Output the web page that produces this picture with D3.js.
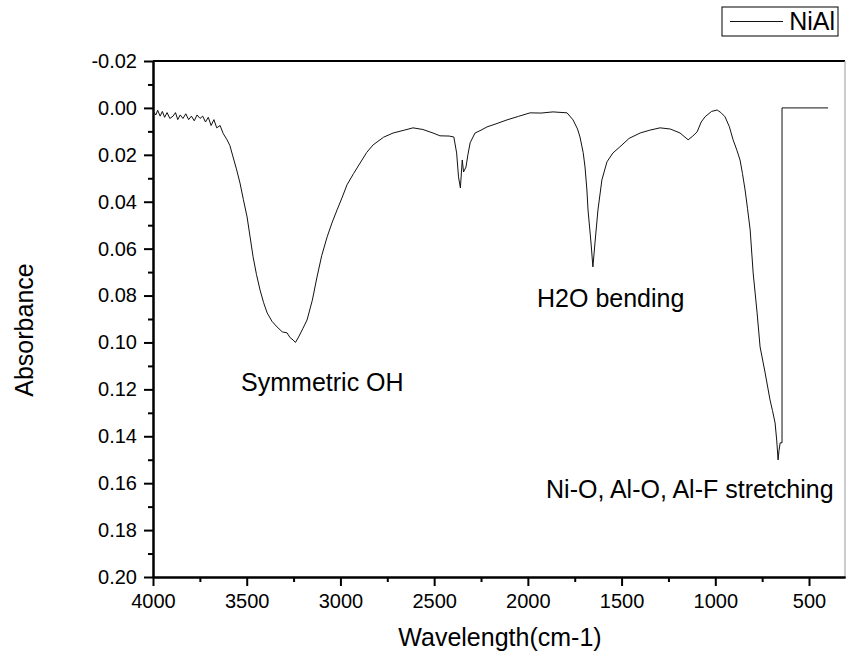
<!DOCTYPE html>
<html>
<head>
<meta charset="utf-8">
<script src="https://cdn.jsdelivr.net/npm/d3@7"></script>
<style>
  body { margin: 0; background: #fff; }
  svg { display: block; font-family: "Liberation Sans", Arial, sans-serif; }
  .tick text { font-size: 20px; fill: #000; }
  .axis path, .axis line { stroke: #000; stroke-width: 2px; }
  .label { font-size: 25px; fill: #000; }
</style>
</head>
<body>
<svg id="chart" width="846" height="659"></svg>
<script>
// FTIR spectrum of NiAl
const wavenumber = [
  3998, 3985, 3975, 3962, 3950, 3938, 3925, 3910, 3893, 3880,
  3868, 3855, 3840, 3825, 3810, 3795, 3780, 3765, 3749, 3735,
  3720, 3705, 3690, 3675, 3660, 3642, 3625, 3605, 3590, 3573,
  3555, 3536, 3518, 3498, 3482, 3466, 3448, 3429, 3410, 3391,
  3365, 3338, 3310, 3285, 3268, 3253, 3240, 3226, 3200, 3178,
  3150, 3125, 3100, 3071, 3045, 3018, 2990, 2965, 2930, 2895,
  2860, 2826, 2770, 2719, 2660, 2613, 2560, 2506, 2469, 2420,
  2395, 2380, 2370, 2360, 2350, 2343, 2330, 2320, 2308, 2282,
  2250, 2218, 2170, 2111, 2050, 1988, 1930, 1866, 1791, 1759,
  1735, 1722, 1705, 1695, 1685, 1679, 1663, 1653, 1642, 1626,
  1605, 1578, 1546, 1509, 1460, 1401, 1350, 1295, 1240, 1188,
  1145, 1120, 1097, 1075, 1055, 1020, 990, 970, 948, 925,
  905, 885, 868, 855, 841, 828, 814, 798, 777, 761,
  734, 708, 695, 681, 672, 665, 660, 654, 644, 644,
  398
];
const absorbance = [
  0.0015, 0.003, 0.001, 0.0035, 0.0015, 0.004, 0.002, 0.0045, 0.0035, 0.002,
  0.005, 0.003, 0.0045, 0.0025, 0.005, 0.0035, 0.0055, 0.003, 0.0045, 0.0035,
  0.006, 0.004, 0.0075, 0.005, 0.0085, 0.0075, 0.011, 0.0136, 0.016, 0.0209,
  0.026, 0.032, 0.039, 0.0465, 0.055, 0.0635, 0.071, 0.0776, 0.083, 0.0874,
  0.091, 0.0934, 0.0955, 0.0959, 0.098, 0.0989, 0.1, 0.0981, 0.094, 0.0904,
  0.082, 0.0721, 0.063, 0.055, 0.049, 0.0435, 0.038, 0.0328, 0.028, 0.0235,
  0.019, 0.0158, 0.0125, 0.0107, 0.0095, 0.0085, 0.0092, 0.0107, 0.0119, 0.012,
  0.0124, 0.0192, 0.0294, 0.0341, 0.0222, 0.0273, 0.0252, 0.02, 0.0149, 0.0107,
  0.0095, 0.0081, 0.0068, 0.0051, 0.0036, 0.0021, 0.0022, 0.0017, 0.0021, 0.0051,
  0.009, 0.0124, 0.019, 0.0252, 0.035, 0.0435, 0.0576, 0.0678, 0.0576, 0.0435,
  0.0307, 0.023, 0.0192, 0.0166, 0.013, 0.0107, 0.0095, 0.0085, 0.009, 0.0107,
  0.0136, 0.012, 0.0102, 0.006, 0.0038, 0.0015, 0.0009, 0.002, 0.0038, 0.008,
  0.0136, 0.018, 0.0222, 0.028, 0.035, 0.043, 0.052, 0.0704, 0.0874, 0.1019,
  0.113, 0.1245, 0.129, 0.1343, 0.142, 0.1501, 0.146, 0.1428, 0.1428, 0,
  0
];

const xMajorTicks = [4000, 3500, 3000, 2500, 2000, 1500, 1000, 500];
const xMinorTicks = [3750, 3250, 2750, 2250, 1750, 1250, 750];
const yMajorTicks = [-0.02, 0.00, 0.02, 0.04, 0.06, 0.08, 0.10, 0.12, 0.14, 0.16, 0.18, 0.20];
const yMinorTicks = [-0.01, 0.01, 0.03, 0.05, 0.07, 0.09, 0.11, 0.13, 0.15, 0.17, 0.19];

const annotations = [
  { text: "Symmetric OH", wn: 3530, ab: 0.1207 },
  { text: "H2O bending", wn: 1951, ab: 0.0849 },
  { text: "Ni-O, Al-O, Al-F stretching", wn: 1903, ab: 0.1663 }
];
const seriesName = "NiAl";

const svg = d3.select("#chart");
const margin = { top: 61, left: 153, right: 1, bottom: 82 };
const width = 846 - margin.left - margin.right;
const height = 659 - margin.top - margin.bottom;

const x = d3.scaleLinear().domain([4000, 308]).range([0, width]);
const y = d3.scaleLinear().domain([-0.02, 0.20]).range([0, height]);

const g = svg.append("g").attr("transform", `translate(${margin.left},${margin.top})`);

// frame: top line + thin right edge
g.append("line")
  .attr("x1", 0).attr("x2", width).attr("y1", 0).attr("y2", 0)
  .attr("stroke", "#000").attr("stroke-width", 2);
g.append("line")
  .attr("x1", width).attr("x2", width).attr("y1", 0).attr("y2", height)
  .attr("stroke", "#999").attr("stroke-width", 1);

// minor ticks
g.append("g").attr("class", "axis")
  .attr("transform", `translate(0,${height})`)
  .call(d3.axisBottom(x).tickValues(xMinorTicks).tickSize(5).tickSizeOuter(0).tickFormat(""));
g.append("g").attr("class", "axis")
  .call(d3.axisLeft(y).tickValues(yMinorTicks).tickSize(5).tickSizeOuter(0).tickFormat(""));

// major ticks
g.append("g").attr("class", "axis")
  .attr("transform", `translate(0,${height})`)
  .call(d3.axisBottom(x).tickValues(xMajorTicks).tickSize(9).tickSizeOuter(0).tickPadding(8)
    .tickFormat(d => d));
g.append("g").attr("class", "axis")
  .call(d3.axisLeft(y).tickValues(yMajorTicks).tickSize(9).tickSizeOuter(0).tickPadding(7)
    .tickFormat(d => d.toFixed(2)));

// spectrum
const pts = wavenumber.map((w, i) => [w, absorbance[i]]);
g.append("path")
  .datum(pts)
  .attr("fill", "none")
  .attr("stroke", "#111")
  .attr("stroke-width", 1)
  .attr("d", d3.line().x(d => x(d[0])).y(d => y(d[1])));

// annotations
g.selectAll("text.note")
  .data(annotations)
  .join("text")
  .attr("class", "label note")
  .attr("x", d => x(d.wn))
  .attr("y", d => y(d.ab))
  .text(d => d.text);

// axis titles
svg.append("text")
  .attr("class", "label")
  .attr("text-anchor", "middle")
  .attr("transform", `translate(33,330) rotate(-90)`)
  .text("Absorbance");
svg.append("text")
  .attr("class", "label")
  .attr("text-anchor", "middle")
  .attr("x", 500).attr("y", 646)
  .text("Wavelength(cm-1)");

// legend
const lg = svg.append("g").attr("transform", "translate(722,7)");
lg.append("rect")
  .attr("width", 116).attr("height", 29)
  .attr("fill", "#fff").attr("stroke", "#000").attr("stroke-width", 1);
lg.append("line")
  .attr("x1", 8).attr("x2", 61).attr("y1", 14.5).attr("y2", 14.5)
  .attr("stroke", "#111").attr("stroke-width", 1);
lg.append("text")
  .attr("class", "label")
  .attr("text-anchor", "end")
  .attr("x", 113).attr("y", 23)
  .text(seriesName);
</script>
</body>
</html>
